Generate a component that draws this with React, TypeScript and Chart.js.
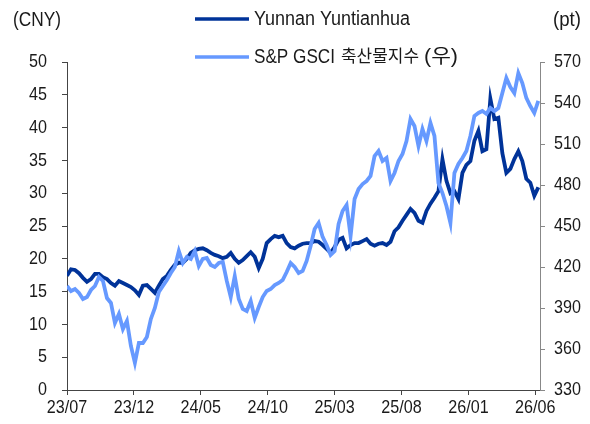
import React, { useEffect, useRef } from "react";
import { Chart, registerables } from "chart.js";

Chart.register(...registerables);

// ---- data ----
const X_LABELS = ["23/07", "23/12", "24/05", "24/10", "25/03", "25/08", "26/01", "26/06"];
const MONTHS_PER_LABEL = 5;
const X_MAX = 35.35; // months from 23/07 to the right edge
const SAMPLE_STEP = 0.2985; // months between samples

// Yunnan Yuntianhua (CNY, left axis)
const yunnan = [
  17.4, 18.4, 18.3, 17.8, 17.1, 16.5, 16.9, 17.7, 17.7, 17.2,
  16.9, 16.3, 15.9, 16.6, 16.3, 16.0, 15.7, 15.2, 14.5, 15.9,
  16.0, 15.4, 14.8, 15.9, 16.9, 17.4, 18.3, 19.1, 19.4, 19.4,
  20.0, 20.9, 21.3, 21.5, 21.6, 21.3, 20.9, 20.6, 20.4, 20.1,
  20.3, 20.9, 20.0, 19.4, 19.8, 20.4, 21.0, 20.3, 18.6, 20.0,
  22.4, 23.0, 23.5, 23.3, 23.5, 22.4, 21.8, 21.6, 22.0, 22.3,
  22.4, 22.4, 22.7, 22.6, 22.1, 21.5, 20.9, 21.8, 22.9, 23.2,
  21.6, 22.1, 22.4, 22.4, 22.7, 23.0, 22.3, 22.0, 22.3, 22.4,
  22.1, 22.6, 24.2, 24.8, 25.8, 26.7, 27.6, 27.0, 25.8, 25.5,
  27.3, 28.4, 29.3, 30.3, 35.2, 31.9, 30.0, 30.3, 29.1, 33.1,
  34.3, 34.9, 38.0, 39.5, 36.4, 36.7, 44.4, 41.3, 41.5, 36.1,
  33.1, 33.7, 35.2, 36.4, 34.9, 32.2, 31.6, 29.6, 30.9,
];

// S&P GSCI livestock index (pt, right axis)
const gsci = [
  406.1, 402.4, 403.9, 401.0, 396.6, 398.0, 403.2, 406.1, 412.7, 409.8,
  397.3, 393.7, 379.0, 385.6, 374.6, 380.5, 362.2, 349.8, 364.4, 364.4,
  368.8, 382.0, 390.0, 401.7, 406.1, 410.5, 415.6, 420.0, 431.7, 422.9,
  427.3, 425.9, 431.7, 420.7, 425.9, 426.6, 421.5, 420.0, 422.9, 423.7,
  409.8, 398.0, 413.4, 396.6, 389.3, 387.8, 395.1, 382.7, 390.7, 398.0,
  402.4, 403.9, 406.8, 408.3, 410.5, 416.3, 422.9, 420.0, 415.6, 417.1,
  424.4, 435.4, 447.8, 452.2, 442.0, 436.1, 428.8, 431.7, 451.5, 461.0,
  465.4, 442.7, 469.8, 477.1, 480.7, 482.9, 486.6, 501.2, 504.9, 497.6,
  499.8, 482.9, 488.8, 497.6, 502.7, 512.2, 528.3, 523.2, 508.5, 521.0,
  512.2, 525.4, 515.9, 481.5, 474.1, 464.6, 452.2, 488.8, 495.4, 499.8,
  504.9, 515.9, 530.5, 532.7, 534.1, 532.0, 536.3, 534.1, 536.3, 547.3,
  558.3, 551.7, 547.3, 561.9, 554.6, 543.7, 537.8, 532.7, 541.5,
];

const SERIES_NAMES = ["Yunnan Yuntianhua", "S&P GSCI 축산물지수 (우)"];
const UNIT_LEFT = "(CNY)";
const UNIT_RIGHT = "(pt)";

// ---- style ----
const DARK = "#003399";
const LIGHT = "#6699ff";
const AXIS_DARK = "#444444";
const AXIS_LIGHT = "#888888";
const TEXT = "#1a1a1a";
const FONT_FAMILY = '"Liberation Sans", "Noto Sans CJK KR", sans-serif';
const TICK_FONT_SIZE = 19;
const TICK_STRETCH = 0.85;

const toPoints = (vals: number[]) => vals.map((v, i) => ({ x: i * SAMPLE_STEP, y: v }));

function drawStretched(
  ctx: CanvasRenderingContext2D,
  text: string,
  x: number,
  y: number,
  sx: number,
  align: CanvasTextAlign
) {
  ctx.save();
  ctx.translate(x, y);
  ctx.scale(sx, 1);
  ctx.textAlign = align;
  ctx.fillText(text, 0, 0);
  ctx.restore();
}

function drawFit(ctx: CanvasRenderingContext2D, text: string, x: number, y: number, width: number) {
  const natural = ctx.measureText(text).width;
  drawStretched(ctx, text, x, y, natural > 0 ? width / natural : 1, "left");
}

const overlayPlugin = {
  id: "overlay",
  afterDraw(chart: any) {
    const ctx = chart.ctx as CanvasRenderingContext2D;
    ctx.save();
    ctx.fillStyle = TEXT;
    ctx.textBaseline = "middle";

    // tick labels
    ctx.font = `${TICK_FONT_SIZE}px ${FONT_FAMILY}`;
    const sy = chart.scales.y;
    sy.ticks.forEach((t: any) => {
      drawStretched(ctx, String(t.value), 47, sy.getPixelForValue(t.value), TICK_STRETCH, "right");
    });
    const sy2 = chart.scales.y2;
    sy2.ticks.forEach((t: any) => {
      drawStretched(ctx, String(t.value), 554, sy2.getPixelForValue(t.value), TICK_STRETCH, "left");
    });
    const sx = chart.scales.x;
    sx.ticks.forEach((t: any) => {
      const label = X_LABELS[Math.round(t.value / MONTHS_PER_LABEL)] ?? "";
      drawStretched(ctx, label, sx.getPixelForValue(t.value), 408, TICK_STRETCH, "center");
    });

    // units
    ctx.font = `19.5px ${FONT_FAMILY}`;
    drawFit(ctx, UNIT_LEFT, 13, 21, 48);
    drawFit(ctx, UNIT_RIGHT, 553, 21, 28);

    // legend
    const rows = [
      { y: 19, color: DARK },
      { y: 57, color: LIGHT },
    ];
    rows.forEach((r) => {
      ctx.strokeStyle = r.color;
      ctx.lineWidth = 3.5;
      ctx.lineCap = "butt";
      ctx.beginPath();
      ctx.moveTo(195, r.y);
      ctx.lineTo(249, r.y);
      ctx.stroke();
    });
    drawFit(ctx, SERIES_NAMES[0], 254, 20, 156);
    const parts = SERIES_NAMES[1].split(" "); // ["S&P","GSCI","축산물지수","(우)"]
    drawFit(ctx, parts[0] + " " + parts[1], 254, 58, 81);
    ctx.font = `17px ${FONT_FAMILY}`;
    drawFit(ctx, parts[2], 341, 57, 78);
    ctx.font = `19.5px ${FONT_FAMILY}`;
    drawFit(ctx, parts[3], 424, 58, 34);
    ctx.restore();
  },
};

export default function App() {
  const ref = useRef<HTMLCanvasElement | null>(null);

  useEffect(() => {
    if (!ref.current) return;
    const gridOpts = (color: string) => ({
      drawOnChartArea: false,
      drawTicks: true,
      tickLength: 5,
      color,
    });
    const chart = new Chart(ref.current, {
      type: "line",
      data: {
        datasets: [
          {
            label: SERIES_NAMES[0],
            data: toPoints(yunnan),
            yAxisID: "y",
            borderColor: DARK,
            backgroundColor: DARK,
            borderWidth: 3.8,
            pointRadius: 0,
            tension: 0,
            order: 2,
          },
          {
            label: SERIES_NAMES[1],
            data: toPoints(gsci),
            yAxisID: "y2",
            borderColor: LIGHT,
            backgroundColor: LIGHT,
            borderWidth: 3.8,
            pointRadius: 0,
            tension: 0,
            order: 1,
          },
        ],
      },
      options: {
        responsive: false,
        animation: false,
        layout: { padding: { top: 62, left: 0, right: 0, bottom: 0 } },
        plugins: { legend: { display: false }, tooltip: { enabled: false } },
        scales: {
          x: {
            type: "linear",
            min: 0,
            max: X_MAX,
            afterBuildTicks: (s: any) => {
              s.ticks = X_LABELS.map((_, i) => ({ value: i * MONTHS_PER_LABEL }));
            },
            afterFit: (s: any) => {
              s.height = 34;
            },
            ticks: { display: false },
            grid: gridOpts(AXIS_DARK),
            border: { color: AXIS_DARK, width: 1 },
          },
          y: {
            position: "left",
            min: 0,
            max: 50,
            afterFit: (s: any) => {
              s.width = 67;
            },
            ticks: { stepSize: 5, display: false },
            grid: gridOpts(AXIS_DARK),
            border: { color: AXIS_DARK, width: 1 },
          },
          y2: {
            position: "right",
            min: 330,
            max: 570,
            afterFit: (s: any) => {
              s.width = 50;
            },
            ticks: { stepSize: 30, display: false },
            grid: gridOpts(AXIS_LIGHT),
            border: { color: AXIS_LIGHT, width: 1 },
          },
        },
      },
      plugins: [overlayPlugin],
    });
    return () => chart.destroy();
  }, []);

  return (
    <div style={{ position: "absolute", left: 0, top: 0, width: 590, height: 424, background: "#fff" }}>
      <canvas ref={ref} width={590} height={424} style={{ display: "block" }} />
    </div>
  );
}
